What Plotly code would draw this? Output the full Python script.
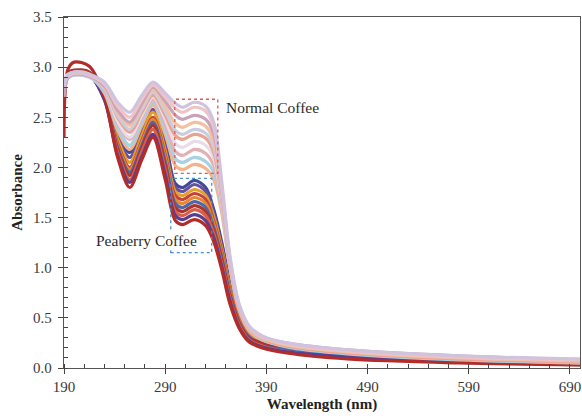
import plotly.graph_objects as go

wavelength = [190, 194, 200, 215, 230, 243, 255, 267, 278, 290, 300, 307, 319, 330, 338, 346, 354, 363, 373, 386, 410, 470, 580, 700]

# Peaberry coffee spectra (darker colours)
pb_blue   = [2.85, 2.92, 2.95, 2.93, 2.75, 2.35, 2.15, 2.43, 2.65, 2.27, 1.84, 1.80, 1.87, 1.80, 1.58, 1.25, 0.85, 0.52, 0.34, 0.26, 0.20, 0.14, 0.09, 0.06]
pb_purple = [2.80, 2.91, 2.94, 2.92, 2.73, 2.31, 2.10, 2.36, 2.58, 2.21, 1.80, 1.76, 1.83, 1.76, 1.54, 1.21, 0.82, 0.50, 0.33, 0.25, 0.20, 0.13, 0.08, 0.05]
pb_gold   = [2.85, 2.92, 2.95, 2.93, 2.72, 2.28, 2.05, 2.32, 2.55, 2.17, 1.76, 1.72, 1.78, 1.72, 1.51, 1.19, 0.80, 0.49, 0.33, 0.26, 0.21, 0.15, 0.10, 0.07]
pb_red    = [2.70, 2.93, 2.96, 2.94, 2.72, 2.24, 2.00, 2.27, 2.50, 2.13, 1.72, 1.68, 1.74, 1.68, 1.47, 1.16, 0.78, 0.48, 0.32, 0.25, 0.20, 0.14, 0.09, 0.06]
pb_orange = [2.80, 2.92, 2.95, 2.93, 2.71, 2.22, 1.98, 2.25, 2.48, 2.10, 1.68, 1.64, 1.70, 1.64, 1.44, 1.13, 0.76, 0.47, 0.32, 0.27, 0.23, 0.17, 0.11, 0.08]
pb_steel  = [2.85, 2.91, 2.94, 2.92, 2.69, 2.20, 1.95, 2.22, 2.45, 2.06, 1.64, 1.60, 1.66, 1.60, 1.40, 1.10, 0.74, 0.46, 0.31, 0.24, 0.19, 0.13, 0.08, 0.05]
pb_brown  = [2.60, 2.94, 2.97, 2.95, 2.69, 2.18, 1.92, 2.19, 2.42, 2.02, 1.60, 1.56, 1.62, 1.56, 1.37, 1.07, 0.72, 0.45, 0.30, 0.25, 0.21, 0.16, 0.11, 0.08]
pb_salmon = [2.80, 2.92, 2.95, 2.93, 2.68, 2.15, 1.88, 2.16, 2.38, 1.98, 1.56, 1.52, 1.58, 1.52, 1.34, 1.04, 0.70, 0.43, 0.28, 0.22, 0.16, 0.10, 0.06, 0.03]
pb_violet = [2.85, 2.91, 2.94, 2.92, 2.67, 2.12, 1.85, 2.11, 2.33, 1.93, 1.52, 1.48, 1.53, 1.47, 1.30, 1.01, 0.67, 0.41, 0.27, 0.21, 0.16, 0.11, 0.07, 0.04]
pb_darkred= [2.30, 2.98, 3.05, 3.01, 2.70, 2.10, 1.80, 2.08, 2.30, 1.88, 1.47, 1.43, 1.48, 1.42, 1.26, 0.98, 0.64, 0.40, 0.26, 0.20, 0.15, 0.09, 0.05, 0.03]

# Normal coffee spectra (pastel colours)
nc_lavender = [2.80, 2.92, 2.95, 2.93, 2.85, 2.65, 2.55, 2.72, 2.85, 2.74, 2.64, 2.60, 2.65, 2.61, 2.45, 1.85, 1.12, 0.64, 0.42, 0.32, 0.25, 0.18, 0.12, 0.09]
nc_pink     = [2.85, 2.91, 2.94, 2.92, 2.83, 2.61, 2.50, 2.68, 2.82, 2.70, 2.59, 2.55, 2.60, 2.56, 2.40, 1.80, 1.10, 0.63, 0.41, 0.31, 0.24, 0.17, 0.11, 0.08]
nc_mauve    = [2.70, 2.90, 2.93, 2.91, 2.81, 2.57, 2.45, 2.64, 2.80, 2.66, 2.52, 2.48, 2.52, 2.48, 2.33, 1.76, 1.08, 0.62, 0.41, 0.31, 0.25, 0.18, 0.12, 0.08]
nc_peach    = [2.80, 2.91, 2.94, 2.92, 2.81, 2.55, 2.42, 2.62, 2.78, 2.61, 2.44, 2.40, 2.45, 2.41, 2.26, 1.72, 1.06, 0.61, 0.40, 0.30, 0.23, 0.16, 0.10, 0.07]
nc_grey     = [2.85, 2.90, 2.92, 2.90, 2.79, 2.52, 2.38, 2.58, 2.75, 2.56, 2.37, 2.33, 2.38, 2.34, 2.20, 1.70, 1.05, 0.61, 0.40, 0.30, 0.24, 0.17, 0.11, 0.08]
nc_salmon   = [2.75, 2.90, 2.93, 2.91, 2.79, 2.50, 2.35, 2.55, 2.72, 2.52, 2.32, 2.28, 2.33, 2.29, 2.15, 1.66, 1.04, 0.60, 0.39, 0.29, 0.22, 0.15, 0.09, 0.06]
nc_pale     = [2.90, 2.93, 2.95, 2.93, 2.79, 2.46, 2.30, 2.52, 2.70, 2.48, 2.24, 2.20, 2.26, 2.22, 2.09, 1.63, 1.03, 0.60, 0.39, 0.29, 0.23, 0.16, 0.10, 0.07]
nc_rose     = [2.80, 2.90, 2.93, 2.91, 2.77, 2.44, 2.28, 2.50, 2.68, 2.43, 2.16, 2.12, 2.18, 2.14, 2.02, 1.60, 1.02, 0.59, 0.38, 0.29, 0.22, 0.15, 0.09, 0.06]
nc_skyblue  = [2.85, 2.89, 2.92, 2.90, 2.75, 2.40, 2.22, 2.46, 2.65, 2.38, 2.09, 2.05, 2.10, 2.06, 1.95, 1.57, 1.01, 0.59, 0.38, 0.28, 0.21, 0.14, 0.08, 0.05]
nc_apricot  = [2.80, 2.90, 2.93, 2.91, 2.74, 2.37, 2.18, 2.42, 2.62, 2.33, 2.02, 1.98, 2.03, 1.99, 1.88, 1.54, 1.00, 0.58, 0.37, 0.28, 0.22, 0.15, 0.09, 0.05]

peaberry = [
    (pb_blue, "#3f4b96"), (pb_purple, "#6a4fa0"), (pb_gold, "#e2a12c"),
    (pb_red, "#c8413a"), (pb_orange, "#e5892f"), (pb_steel, "#4e66ac"),
    (pb_brown, "#a9352f"), (pb_salmon, "#d8604a"), (pb_violet, "#5b3f8f"),
    (pb_darkred, "#b22d2a"),
]
normal = [
    (nc_apricot, "#f2b48a"), (nc_skyblue, "#a9d0e3"), (nc_rose, "#e3b0b3"),
    (nc_pale, "#e8dce8"), (nc_salmon, "#eaa38e"), (nc_grey, "#c9cde0"),
    (nc_peach, "#f4c0a2"), (nc_mauve, "#c9a3ba"), (nc_pink, "#efc4c7"),
    (nc_lavender, "#cfc3de"),
]

fig = go.Figure()
for vals, col in peaberry + normal:
    fig.add_trace(go.Scatter(x=wavelength, y=vals, mode="lines",
                             line=dict(color=col, width=3.2, shape="spline", smoothing=0.9),
                             showlegend=False, hoverinfo="skip"))

# dashed boxes
normal_box = dict(x0=299.5, x1=342, y0=1.94, y1=2.68)
peaberry_box = dict(x0=295.5, x1=336, y0=1.15, y1=1.89)
fig.add_shape(type="rect", xref="x", yref="y", **normal_box,
              line=dict(color="#e05a50", width=1.3, dash="dot"))
fig.add_shape(type="rect", xref="x", yref="y", **peaberry_box,
              line=dict(color="#4a90d0", width=1.3, dash="dot"))

serif = "Liberation Serif"
fig.add_annotation(x=348, y=2.60, xref="x", yref="y", text="Normal Coffee",
                   showarrow=False, xanchor="left", yanchor="middle",
                   font=dict(family=serif, size=15.5, color="#2a2a2a"))
fig.add_annotation(x=220.5, y=1.27, xref="x", yref="y", text="Peaberry Coffee",
                   showarrow=False, xanchor="left", yanchor="middle", bgcolor="white",
                   borderpad=0,
                   font=dict(family=serif, size=15.5, color="#2a2a2a"))

fig.update_layout(
    width=582, height=416,
    margin=dict(l=64, r=2, t=17, b=48),
    paper_bgcolor="white", plot_bgcolor="white",
    font=dict(family=serif, size=15, color="#3a3a3a"),
)
fig.update_xaxes(
    range=[190, 700], tick0=190, dtick=100, showgrid=False, zeroline=False,
    showline=True, linecolor="#555", linewidth=1.3, mirror=True,
    ticks="outside", ticklen=5, tickcolor="#444",
    minor=dict(ticks="inside", dtick=20, tick0=190, ticklen=4, tickcolor="#444"),
    tickfont=dict(family=serif, size=15, color="#3a3a3a"),
    title=dict(text="<b>Wavelength (nm)</b>", font=dict(family=serif, size=15, color="#222"), standoff=4),
)
fig.update_yaxes(
    range=[0, 3.5], tick0=0, dtick=0.5, tickformat=".1f", showgrid=False, zeroline=False,
    showline=True, linecolor="#555", linewidth=1.3, mirror=True,
    ticks="outside", ticklen=5, tickcolor="#444", ticklabelstandoff=3,
    minor=dict(ticks="inside", dtick=0.1, ticklen=4, tickcolor="#444"),
    tickfont=dict(family=serif, size=15, color="#3a3a3a"),
    title=dict(text="<b>Absorbance</b>", font=dict(family=serif, size=15, color="#222"), standoff=6),
)

fig.write_html("out.html")
